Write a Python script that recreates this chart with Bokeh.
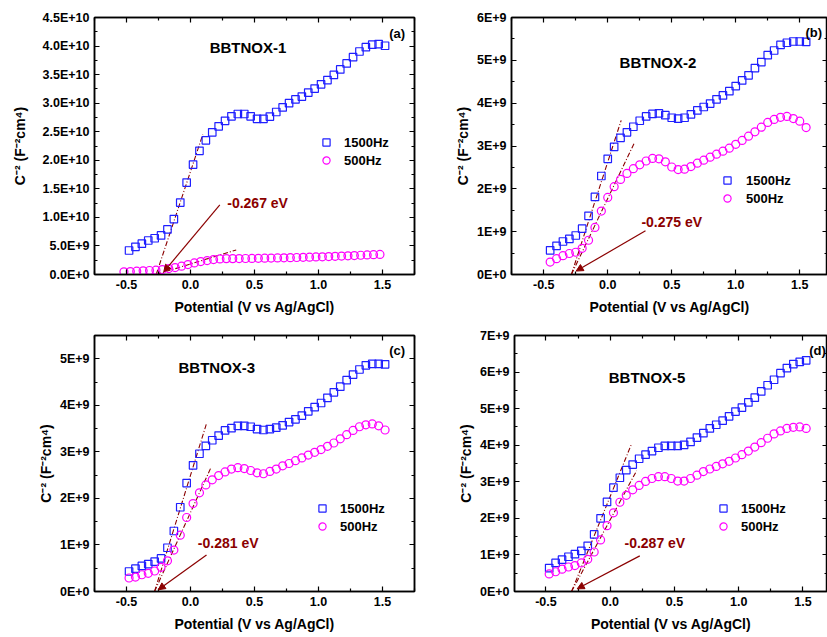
from bokeh.plotting import figure
from bokeh.layouts import column, row
from bokeh.models import (FixedTicker, LinearAxis, Legend, LegendItem, Label, Arrow,
                          NormalHead, Range1d, CustomJSTickFormatter)
from bokeh.embed import file_html
from bokeh.resources import INLINE

# ---------------- data (C^-2 values in units of 1E9 F^-2 cm^4) ----------------
x_a_1500 = [-0.48, -0.43, -0.38, -0.33, -0.28, -0.23, -0.18, -0.13, -0.08, -0.03, 0.02, 0.07, 0.12, 0.17,
            0.22, 0.27, 0.32, 0.37, 0.42, 0.47, 0.52, 0.57, 0.62, 0.67, 0.72, 0.77, 0.82, 0.87, 0.92, 0.97,
            1.02, 1.07, 1.12, 1.17, 1.22, 1.27, 1.32, 1.37, 1.42, 1.47, 1.52]
y_a_1500 = [4.2, 4.85, 5.4, 5.95, 6.35, 6.85, 7.9, 9.7, 12.6, 16.1, 19.25, 21.65, 23.5, 24.9, 25.95, 26.9,
            27.7, 28.1, 28.1, 27.7, 27.25, 27.25, 27.65, 28.45, 29.25, 30.0, 30.65, 31.15, 31.85, 32.55,
            33.3, 34.05, 34.95, 35.9, 36.95, 38.05, 39.05, 39.8, 40.25, 40.35, 40.05]
x_a_500 = [-0.52, -0.47, -0.42, -0.37, -0.32, -0.27, -0.22, -0.17, -0.12, -0.07, -0.02, 0.03, 0.08, 0.13,
           0.18, 0.23, 0.28, 0.33, 0.38, 0.43, 0.48, 0.53, 0.58, 0.63, 0.68, 0.73, 0.78, 0.83, 0.88, 0.93,
           0.98, 1.03, 1.08, 1.13, 1.18, 1.23, 1.28, 1.33, 1.38, 1.43, 1.48]
y_a_500 = [0.46, 0.52, 0.58, 0.64, 0.70, 0.75, 0.87, 1.04, 1.22, 1.45, 1.74, 2.03, 2.26, 2.44, 2.61, 2.73,
           2.78, 2.78, 2.79, 2.80, 2.82, 2.84, 2.86, 2.88, 2.90, 2.92, 2.95, 2.98, 3.01, 3.04, 3.07, 3.10,
           3.14, 3.18, 3.22, 3.27, 3.32, 3.37, 3.42, 3.47, 3.52]

x_b = [-0.45, -0.40, -0.35, -0.30, -0.25, -0.20, -0.15, -0.10, -0.05, 0.00, 0.05, 0.10, 0.15, 0.20, 0.25,
       0.30, 0.35, 0.40, 0.45, 0.50, 0.55, 0.60, 0.65, 0.70, 0.75, 0.80, 0.85, 0.90, 0.95, 1.00, 1.05, 1.10,
       1.15, 1.20, 1.25, 1.30, 1.35, 1.40, 1.45, 1.50, 1.55]
y_b_1500 = [0.565, 0.67, 0.77, 0.83, 0.91, 1.07, 1.37, 1.81, 2.30, 2.70, 2.98, 3.19, 3.32, 3.45, 3.59, 3.69,
            3.75, 3.76, 3.72, 3.66, 3.64, 3.66, 3.74, 3.83, 3.91, 3.99, 4.09, 4.18, 4.28, 4.40, 4.53, 4.65,
            4.82, 4.96, 5.12, 5.23, 5.36, 5.41, 5.44, 5.44, 5.43]
y_b_500 = [0.29, 0.37, 0.44, 0.49, 0.52, 0.61, 0.80, 1.10, 1.48, 1.80, 2.05, 2.22, 2.36, 2.47, 2.56, 2.65,
           2.71, 2.70, 2.63, 2.51, 2.45, 2.46, 2.52, 2.60, 2.67, 2.74, 2.81, 2.88, 2.95, 3.04, 3.13, 3.23,
           3.33, 3.44, 3.55, 3.62, 3.67, 3.69, 3.64, 3.58, 3.43]

x_c = x_a_1500
y_c_1500 = [0.43, 0.49, 0.55, 0.59, 0.64, 0.71, 0.94, 1.30, 1.81, 2.33, 2.71, 2.96, 3.13, 3.25, 3.35, 3.46,
            3.51, 3.56, 3.56, 3.54, 3.49, 3.47, 3.49, 3.52, 3.57, 3.64, 3.70, 3.78, 3.87, 3.96, 4.05, 4.16,
            4.28, 4.40, 4.54, 4.66, 4.77, 4.86, 4.89, 4.89, 4.88]
y_c_500 = [0.29, 0.31, 0.36, 0.39, 0.44, 0.52, 0.66, 0.89, 1.21, 1.59, 1.89, 2.12, 2.29, 2.40, 2.49, 2.57,
           2.63, 2.66, 2.64, 2.60, 2.55, 2.53, 2.58, 2.63, 2.70, 2.75, 2.81, 2.87, 2.93, 2.99, 3.05, 3.12,
           3.19, 3.28, 3.37, 3.46, 3.54, 3.58, 3.60, 3.56, 3.47]

x_d = [-0.475, -0.425, -0.375, -0.325, -0.275, -0.225, -0.175, -0.125, -0.075, -0.025, 0.025, 0.075, 0.125,
       0.175, 0.225, 0.275, 0.325, 0.375, 0.425, 0.475, 0.525, 0.575, 0.625, 0.675, 0.725, 0.775, 0.825,
       0.875, 0.925, 0.975, 1.025, 1.075, 1.125, 1.175, 1.225, 1.275, 1.325, 1.375, 1.425, 1.475, 1.525]
y_d_1500 = [0.64, 0.78, 0.87, 0.95, 1.02, 1.11, 1.25, 1.56, 2.00, 2.45, 2.84, 3.11, 3.32, 3.47, 3.63, 3.74,
            3.84, 3.93, 3.98, 3.98, 3.98, 4.01, 4.09, 4.21, 4.33, 4.46, 4.56, 4.67, 4.79, 4.92, 5.03, 5.17,
            5.30, 5.47, 5.64, 5.79, 5.97, 6.11, 6.22, 6.28, 6.32]
y_d_500 = [0.48, 0.54, 0.61, 0.67, 0.71, 0.78, 0.88, 1.08, 1.41, 1.80, 2.15, 2.44, 2.63, 2.78, 2.90, 3.01,
           3.09, 3.14, 3.14, 3.09, 3.02, 3.02, 3.09, 3.18, 3.28, 3.35, 3.42, 3.49, 3.56, 3.65, 3.74, 3.84,
           3.95, 4.07, 4.19, 4.31, 4.39, 4.46, 4.49, 4.50, 4.46]

# Mott-Schottky linear fits: x-intercept and upper end point (x, y in 1E9)
fit_a = [(-0.268, 0.096, 24.5), (-0.268, 0.357, 4.3)]
fit_b = [(-0.284, 0.105, 3.60), (-0.284, 0.209, 3.08)]
fit_c = [(-0.281, 0.123, 3.59), (-0.281, 0.156, 2.64)]
fit_d = [(-0.301, 0.163, 4.01), (-0.301, 0.205, 3.30)]

samples = ["BBTNOX-1", "BBTNOX-2", "BBTNOX-3", "BBTNOX-5"]
tags = ["(a)", "(b)", "(c)", "(d)"]
flatband = ["-0.267 eV", "-0.275 eV", "-0.281 eV", "-0.287 eV"]
series_names = ["1500Hz", "500Hz"]

x_ticks = [-0.5, 0.0, 0.5, 1.0, 1.5]
x_tick_labels = ["-0.5", "0.0", "0.5", "1.0", "1.5"]
y_ticks_a = [0, 5e9, 1e10, 1.5e10, 2e10, 2.5e10, 3e10, 3.5e10, 4e10, 4.5e10]
y_tick_labels_a = ["0.0E+0", "5.0E+9", "1.0E+10", "1.5E+10", "2.0E+10", "2.5E+10", "3.0E+10",
                   "3.5E+10", "4.0E+10", "4.5E+10"]
y_ticks_9 = [0, 1e9, 2e9, 3e9, 4e9, 5e9, 6e9, 7e9]
y_tick_labels_9 = ["0E+0", "1E+9", "2E+9", "3E+9", "4E+9", "5E+9", "6E+9", "7E+9"]

# ---------------- styles ----------------
FONT = "Liberation Sans"
BLUE = "#1f1fff"
MAGENTA = "#ff00ff"
DARKRED = "#8b0000"
E9 = 1e9


def style_axis(ax, standoff_title):
    ax.major_tick_in = 5
    ax.major_tick_out = 0
    ax.minor_tick_in = 3
    ax.minor_tick_out = 0
    ax.axis_line_width = 1.5
    ax.axis_line_color = "black"
    ax.major_tick_line_color = "black"
    ax.minor_tick_line_color = "black"
    ax.major_tick_line_width = 1.2
    ax.minor_tick_line_width = 1.2
    ax.major_label_standoff = 5
    ax.major_label_text_font = FONT
    ax.major_label_text_font_style = "bold"
    ax.major_label_text_font_size = "12.5px"
    ax.major_label_text_color = "black"
    ax.axis_label_text_font = FONT
    ax.axis_label_text_font_style = "bold"
    ax.axis_label_text_font_size = "14px"
    ax.axis_label_text_color = "black"
    ax.axis_label_standoff = standoff_title


def panel(cfg):
    p = figure(width=cfg["w"], height=cfg["h"], output_backend="svg", toolbar_location=None,
               x_range=Range1d(*cfg["xr"]), y_range=Range1d(*cfg["yr"]),
               min_border=0, min_border_left=cfg["bl"], min_border_right=cfg["br"],
               min_border_top=cfg["bt"], min_border_bottom=cfg["bb"])
    p.xgrid.visible = False
    p.ygrid.visible = False
    p.outline_line_color = "black"
    p.outline_line_width = 1.5
    p.background_fill_color = "white"
    p.border_fill_color = "white"

    x_minor = [-0.75, -0.25, 0.25, 0.75, 1.25, 1.75]
    p.xaxis.ticker = FixedTicker(ticks=x_ticks, minor_ticks=x_minor)
    p.yaxis.ticker = FixedTicker(ticks=cfg["yticks"], minor_ticks=cfg["yminor"])
    p.xaxis.major_label_overrides = dict(zip(x_ticks, x_tick_labels))
    p.yaxis.major_label_overrides = dict(zip(cfg["yticks"], cfg["ylabels"]))
    p.xaxis.axis_label = "Potential (V vs Ag/AgCl)"
    p.yaxis.axis_label = "C\u207b\u00b2 (F\u207b\u00b2cm\u2074)"
    style_axis(p.xaxis[0], 7)
    style_axis(p.yaxis[0], cfg["ystand"])

    blank = "return ''"
    top = LinearAxis(ticker=FixedTicker(ticks=x_ticks, minor_ticks=x_minor),
                     formatter=CustomJSTickFormatter(code=blank))
    right = LinearAxis(ticker=FixedTicker(ticks=cfg["yticks"], minor_ticks=cfg["yminor"]),
                       formatter=CustomJSTickFormatter(code=blank))
    for ax in (top, right):
        style_axis(ax, 0)
        ax.major_label_standoff = 0
    p.add_layout(top, "above")
    p.add_layout(right, "right")

    # fit lines
    for (x0, x1, y1) in cfg["fits"]:
        p.line([x0, x1], [0, y1 * E9], line_color=DARKRED, line_width=1.1, line_dash="5 2 1 2")

    xs1, ys1, xs2, ys2 = cfg["data"]
    r1 = p.scatter(xs1, [v * E9 for v in ys1], marker="square", size=7.5, fill_color=None,
                   line_color=BLUE, line_width=1.2)
    r2 = p.scatter(xs2, [v * E9 for v in ys2], marker="circle", size=8, fill_color=None,
                   line_color=MAGENTA, line_width=1.2)

    leg = Legend(items=[LegendItem(label=series_names[0], renderers=[r1]),
                        LegendItem(label=series_names[1], renderers=[r2])],
                 location=cfg["leg"], glyph_width=18, glyph_height=18, label_height=18,
                 label_standoff=cfg["legstand"], spacing=0, padding=0, margin=0,
                 border_line_color=None, background_fill_alpha=0,
                 label_text_font=FONT, label_text_font_style="bold", label_text_font_size="13px",
                 label_text_color="black")
    p.add_layout(leg)

    tx, ty = cfg["title"]
    p.add_layout(Label(x=tx, y=ty * E9, text=cfg["name"], text_align="center", text_baseline="middle",
                       text_font=FONT, text_font_style="bold", text_font_size="15px",
                       text_color="black"))
    gx, gy = cfg["tagpos"]
    p.add_layout(Label(x=gx, y=gy * E9, text=cfg["tag"], text_align="center", text_baseline="middle",
                       text_font=FONT, text_font_style="bold", text_font_size="13px",
                       text_color="black"))
    ex, ey = cfg["evpos"]
    p.add_layout(Label(x=ex, y=ey * E9, text=cfg["ev"], text_align="left", text_baseline="middle",
                       text_font=FONT, text_font_style="bold", text_font_size="14px",
                       text_color=DARKRED))
    ax0, ay0, ax1, ay1 = cfg["arrow"]
    p.add_layout(Arrow(end=NormalHead(size=7, fill_color=DARKRED, line_color=DARKRED, line_width=1),
                       x_start=ax0, y_start=ay0 * E9, x_end=ax1, y_end=ay1 * E9,
                       line_color=DARKRED, line_width=1.2))
    return p


minor_a = [2.5e9, 7.5e9, 1.25e10, 1.75e10, 2.25e10, 2.75e10, 3.25e10, 3.75e10, 4.25e10]
minor_9 = [0.5e9, 1.5e9, 2.5e9, 3.5e9, 4.5e9, 5.5e9, 6.5e9]

cfgs = [
    dict(w=420, h=325, bl=94, br=6, bt=17, bb=49, xr=(-0.75, 1.75), yr=(0, 4.5e10),
         yticks=y_ticks_a, ylabels=y_tick_labels_a, yminor=minor_a, ystand=12,
         data=(x_a_1500, y_a_1500, x_a_500, y_a_500), fits=fit_a,
         leg=(223, 105), legstand=9, name=samples[0], title=(0.449, 39.7),
         tag=tags[0], tagpos=(1.615, 42.2), ev=flatband[0], evpos=(0.287, 12.5),
         arrow=(0.229, 12.2, -0.209, 0.47)),
    dict(w=407, h=325, bl=91, br=0, bt=16, bb=51, xr=(-0.752, 1.717), yr=(0, 6e9),
         yticks=y_ticks_9[:7], ylabels=y_tick_labels_9[:7], yminor=minor_9[:6], ystand=3,
         data=(x_b, y_b_1500, x_b, y_b_500), fits=fit_b,
         leg=(207, 67), legstand=10, name=samples[1], title=(0.392, 4.94),
         tag=tags[1], tagpos=(1.61, 5.64), ev=flatband[1], evpos=(0.263, 1.22),
         arrow=(0.295, 1.02, -0.247, 0.08)),
    dict(w=420, h=312, bl=94, br=6, bt=10, bb=45, xr=(-0.75, 1.75), yr=(0, 5.5e9),
         yticks=y_ticks_9[:6], ylabels=y_tick_labels_9[:6], yminor=minor_9[:6], ystand=3,
         data=(x_c, y_c_1500, x_c, y_c_500), fits=fit_c,
         leg=(219, 56), legstand=9, name=samples[2], title=(0.206, 4.81),
         tag=tags[2], tagpos=(1.615, 5.18), ev=flatband[2], evpos=(0.057, 1.037),
         arrow=(0.125, 0.786, -0.252, 0.036)),
    dict(w=407, h=312, bl=94, br=0, bt=7, bb=46, xr=(-0.745, 1.691), yr=(0, 7e9),
         yticks=y_ticks_9, ylabels=y_tick_labels_9, yminor=minor_9, ystand=3,
         data=(x_d, y_d_1500, x_d, y_d_500), fits=fit_d,
         leg=(200, 56), legstand=9, name=samples[3], title=(0.287, 5.85),
         tag=tags[3], tagpos=(1.613, 6.6), ev=flatband[3], evpos=(0.111, 1.32),
         arrow=(0.230, 0.974, -0.257, 0.073)),
]

pa, pb, pc, pd = [panel(c) for c in cfgs]
layout = column(row(pa, pb, spacing=0), row(pc, pd, spacing=0), spacing=0)

open("out.html", "w").write(file_html(layout, INLINE))
